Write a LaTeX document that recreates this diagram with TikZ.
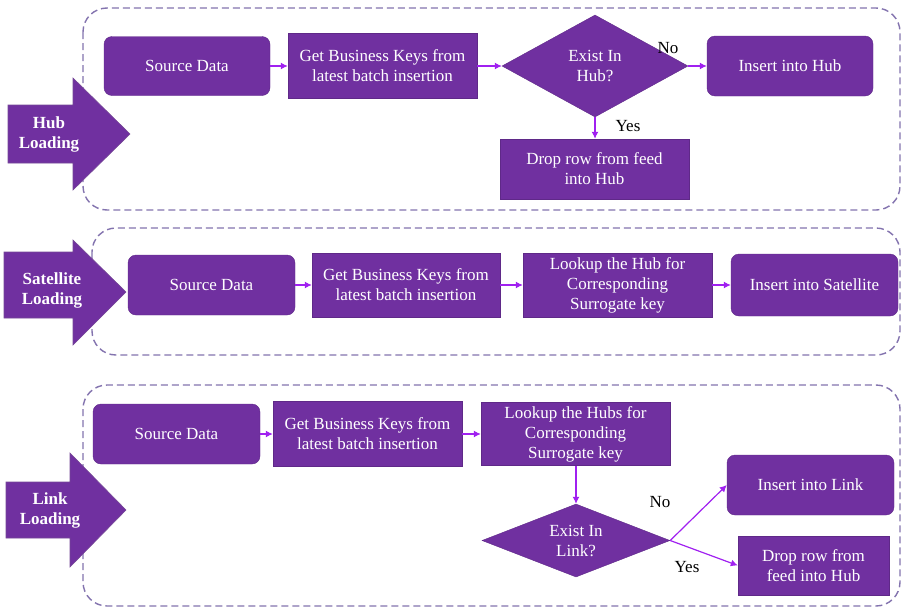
\documentclass[tikz,border=0pt]{standalone}
\usepackage{fontspec}
\setmainfont{Liberation Serif}
\usetikzlibrary{arrows.meta,shapes.geometric}
\definecolor{boxpurple}{HTML}{7030A0}
\definecolor{linkviolet}{HTML}{A020F0}
\definecolor{framegray}{HTML}{8373AE}
\begin{document}
\begin{tikzpicture}[x=1pt,y=-1pt,
  box/.style={fill=boxpurple, draw=boxpurple!85!black, line width=0.4pt, text=white, align=center, font=\fontsize{17}{20}\selectfont, inner sep=2pt},
  rbox/.style={box, rounded corners=8pt},
  dec/.style={box, diamond, aspect=2.5, inner sep=0pt},
  flow/.style={linkviolet, line width=1.2pt, -{Latex[length=7pt,width=7pt]}},
  frame/.style={framegray, dash pattern=on 7pt off 4pt, line width=1.4pt, rounded corners=24pt},
  lbl/.style={font=\fontsize{17}{20}\selectfont, text=black},
  blk/.style={fill=boxpurple, draw=boxpurple!70!gray, line width=0.6pt},
  blktext/.style={text=white, font=\bfseries\fontsize{17}{20}\selectfont, align=center}]
\useasboundingbox (0,0) rectangle (902,608);

% frames
\draw[frame] (83,8) rectangle (900,210);
\draw[frame] (92,228) rectangle (900,355);
\draw[frame] (83,385) rectangle (900,606);

% block arrows
\draw[blk] (8,105) -- (73,105) -- (73,78) -- (130,134) -- (73,190) -- (73,163) -- (8,163) -- cycle;
\node[blktext] (hubL) at (49,134) {Hub\\Loading};
\draw[blk] (4,252) -- (73,252) -- (73,240) -- (126,292) -- (73,345) -- (73,318) -- (4,318) -- cycle;
\node[blktext] (satL) at (52,290) {Satellite\\Loading};
\draw[blk] (6,482) -- (70,482) -- (70,453) -- (126,510) -- (70,567) -- (70,538) -- (6,538) -- cycle;
\node[blktext] (linkL) at (50,510) {Link\\Loading};

% Hub loading
\node[rbox, minimum width=166, minimum height=59] (s1) at (187,66) {Source Data};
\node[box, minimum width=189, minimum height=65] (g1) at (382.5,66) {Get Business Keys from\\latest batch insertion};
\node[dec, minimum width=186, minimum height=102] (d1) at (595,66) {Exist In\\Hub?};
\node[rbox, minimum width=166, minimum height=60] (i1) at (790,66) {Insert into Hub};
\node[box, minimum width=189, minimum height=60] (p1) at (594.5,169) {Drop row from feed\\into Hub};
\node[lbl] (no1) at (668,48) {No};
\node[lbl] (yes1) at (628,126) {Yes};
\draw[flow] (s1) -- (g1);
\draw[flow] (g1) -- (d1);
\draw[flow] (d1) -- (i1);
\draw[flow] (d1.south) -- (d1.south |- p1.north);

% Satellite loading
\node[rbox, minimum width=167, minimum height=60] (s2) at (211.5,285) {Source Data};
\node[box, minimum width=188, minimum height=64] (g2) at (406,285) {Get Business Keys from\\latest batch insertion};
\node[box, minimum width=189, minimum height=64] (l2) at (617.5,285) {Lookup the Hub for\\Corresponding\\Surrogate key};
\node[rbox, minimum width=167, minimum height=62] (i2) at (814.5,285) {Insert into Satellite};
\draw[flow] (s2) -- (g2);
\draw[flow] (g2) -- (l2);
\draw[flow] (l2) -- (i2);

% Link loading
\node[rbox, minimum width=167, minimum height=60] (s3) at (176.5,434) {Source Data};
\node[box, minimum width=189, minimum height=65] (g3) at (367.5,434) {Get Business Keys from\\latest batch insertion};
\node[box, minimum width=189, minimum height=63] (l3) at (575.5,434) {Lookup the Hubs for\\Corresponding\\Surrogate key};
\node[dec, minimum width=188, minimum height=73] (d3) at (576,540.5) {Exist In\\Link?};
\node[rbox, minimum width=167, minimum height=60] (i3) at (810.5,485) {Insert into Link};
\node[box, minimum width=151, minimum height=59] (p3) at (813.5,565.5) {Drop row from\\feed into Hub};
\node[lbl] (no3) at (660,502) {No};
\node[lbl] (yes3) at (687,567) {Yes};
\draw[flow] (s3) -- (g3);
\draw[flow] (g3) -- (l3);
\draw[flow] (l3.south -| d3.north) -- (d3.north);
\draw[flow] (d3.east) -- (i3.west);
\draw[flow] (d3.east) -- (p3.west);
\end{tikzpicture}
\end{document}
